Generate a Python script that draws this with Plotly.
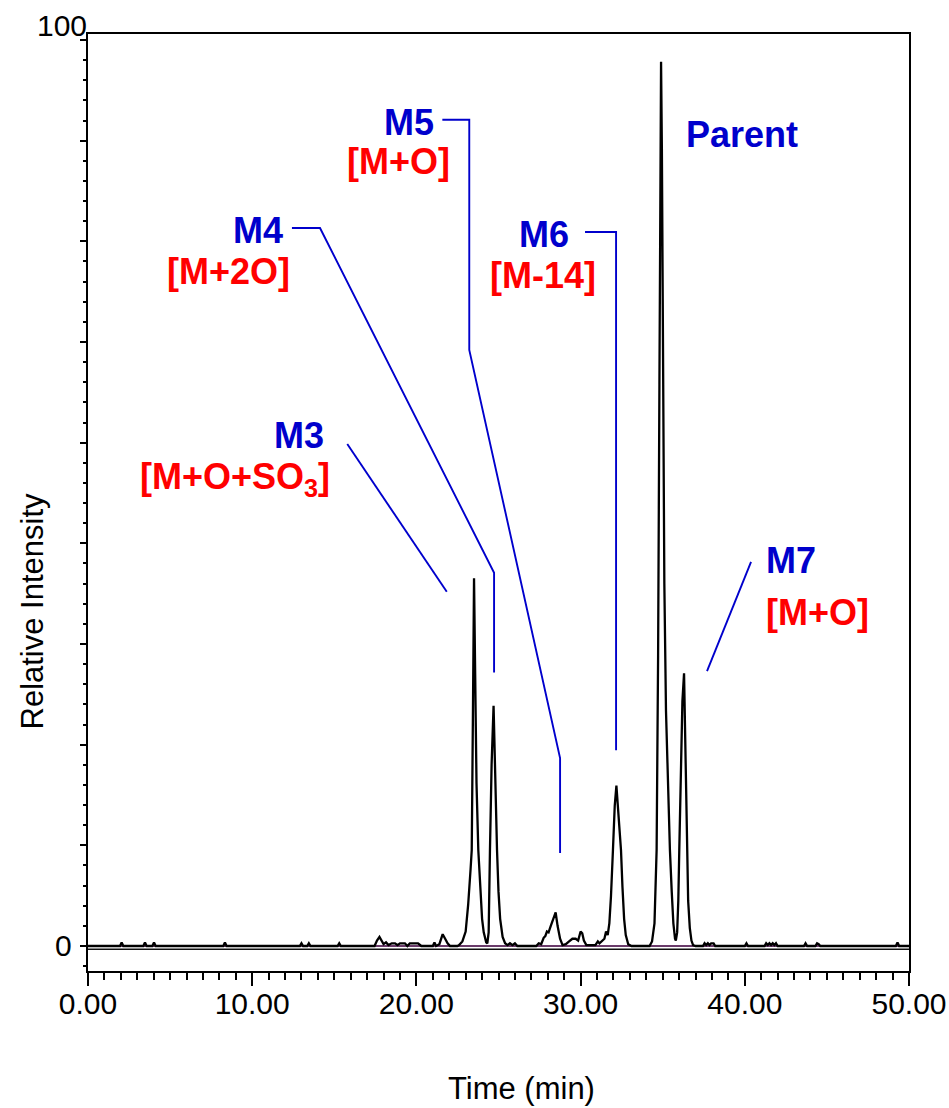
import plotly.graph_objects as go

# ---------------- data ----------------
TIME_MIN = [
    0.0, 1.95, 2.05, 2.15, 3.37, 3.47, 3.57, 3.92, 4.02, 4.12, 8.24, 8.34, 8.44,
    12.9, 13.0, 13.1, 13.35, 13.45, 13.55, 15.2, 15.3, 15.4,
    17.45, 17.6, 17.75, 17.9, 18.0, 18.15, 18.3, 18.5, 18.7, 18.85, 19.0, 19.3, 19.45,
    19.6, 20.1, 20.3, 21.0, 21.1, 21.2, 21.4, 21.6, 21.75, 21.9, 22.05, 22.5,
    22.6, 22.8, 23.0, 23.15, 23.3, 23.37, 23.44, 23.51, 23.58, 23.66, 23.77, 23.9,
    24.0, 24.1, 24.25, 24.32, 24.4, 24.48, 24.58, 24.7, 24.78, 24.91, 25.0, 25.1,
    25.25, 25.4, 25.55, 25.7, 25.85, 26.0, 26.15, 27.3, 27.45, 27.6, 27.75, 27.85,
    27.95, 28.05, 28.2, 28.35, 28.48, 28.6, 28.75, 28.9, 29.1, 29.3, 29.5, 29.7,
    29.85, 30.0, 30.1, 30.2, 30.35, 30.9, 31.05, 31.15, 31.3, 31.45, 31.55, 31.65,
    31.75, 31.85, 31.97, 32.08, 32.18, 32.28, 32.37, 32.46, 32.55, 32.65, 32.75,
    32.9, 33.1, 34.2, 34.35, 34.5, 34.63, 34.72, 34.8, 34.86, 34.9, 34.95, 35.02,
    35.1, 35.2, 35.32, 35.44, 35.55, 35.65, 35.75, 35.8, 35.88, 35.95, 36.01, 36.1,
    36.2, 36.3, 36.38, 36.46, 36.55, 36.65, 36.75, 36.85, 37.0,
    37.45, 37.55, 37.65, 37.75, 37.85, 37.95, 38.1, 38.2, 40.0, 40.1, 40.2,
    41.2, 41.3, 41.4, 41.5, 41.6, 41.7, 41.8, 41.9, 42.0, 43.6, 43.7, 43.8,
    44.3, 44.4, 44.5, 44.6, 49.2, 49.3, 49.4, 50.0,
]
INTENSITY = [
    0, 0, 0.4, 0, 0, 0.4, 0, 0, 0.4, 0, 0, 0.4, 0,
    0, 0.3, 0, 0, 0.3, 0, 0, 0.3, 0,
    0, 0.6, 1.0, 0.5, 0.2, 0.4, 0.1, 0.3, 0.3, 0.1, 0.3, 0.3, 0.0,
    0.3, 0.3, 0.0, 0, 0.4, 0, 0.2, 1.3, 0.8, 0.3, 0, 0,
    0.1, 0.5, 1.6, 4.5, 8.5, 10.6, 25, 40.6, 30, 18, 10.6, 5.5,
    3, 1.5, 0.4, 0.3, 1.5, 10.6, 20, 26.5, 20, 10.6, 6, 3,
    1.0, 0.3, 0.1, 0.3, 0.1, 0.3, 0, 0, 0.3, 0.2, 0.9, 1.1,
    1.6, 1.5, 2.3, 3.0, 3.7, 2.2, 0.8, 0.1, 0.2, 0.5, 0.8, 0.8,
    0.6, 1.6, 1.4, 0.6, 0.1, 0.1, 0.5, 0.3, 0.5, 0.8, 1.6, 1.2,
    2.5, 5.5, 10.6, 15.5, 17.7, 15, 12.5, 10.6, 6.5, 3, 1.2,
    0.2, 0, 0, 0.5, 2.5, 10.6, 32, 62, 88, 97.6, 88, 62,
    40, 26, 17, 10.6, 6, 2.5, 0.8, 0.6, 1.5, 5, 10.6, 19,
    27, 30.1, 22, 10.6, 5, 2, 0.6, 0.1, 0,
    0, 0.3, 0.1, 0.3, 0.1, 0.3, 0.3, 0, 0, 0.3, 0,
    0, 0.3, 0.1, 0.3, 0.1, 0.3, 0.1, 0.3, 0, 0, 0.3, 0,
    0, 0.3, 0.2, 0, 0, 0.4, 0, 0,
]

X_TICK_VALUES = [0, 10, 20, 30, 40, 50]
Y_TICK_LABELS = ["0", "100"]

# Peak labels: (text, colour-key, x [min], y [%])
PEAK_LABELS = [
    ("Parent", "blue", 39.83, 89.6),
    ("M5", "blue", 19.55, 90.9),
    ("[M+O]", "red", 18.94, 86.6),
    ("M4", "blue", 10.35, 79.0),
    ("[M+2O]", "red", 8.53, 74.4),
    ("M6", "blue", 27.77, 78.5),
    ("[M-14]", "red", 27.74, 74.0),
    ("M3", "blue", 12.82, 56.3),
    ("[M+O+SO<sub>3</sub>]", "red", 8.95, 51.5),
    ("M7", "blue", 42.84, 42.5),
    ("[M+O]", "red", 44.40, 36.8),
]

# Leader lines (annotation pointers), in data coordinates
LEADERS = [
    [(15.79, 55.4), (21.85, 39.1)],                                   # M3
    [(12.42, 79.25), (14.13, 79.25), (24.73, 41.2), (24.73, 30.2)],    # M4
    [(21.58, 91.2), (23.22, 91.2), (23.22, 65.8), (28.75, 20.75), (28.75, 10.26)],  # M5
    [(30.27, 78.8), (32.16, 78.8), (32.16, 21.6)],                    # M6
    [(40.38, 42.4), (37.70, 30.35)],                                  # M7
]

COLORS = {"blue": "#0000CC", "red": "#FF0000"}
FONT = "Liberation Sans, Arial, sans-serif"

fig = go.Figure()

# zero reference lines
fig.add_trace(go.Scatter(x=[0, 50], y=[0, 0], mode="lines",
                         line=dict(color="#6A3A6A", width=1.8), hoverinfo="skip"))
fig.add_trace(go.Scatter(x=[0, 50], y=[-0.35, -0.35], mode="lines",
                         line=dict(color="#111111", width=1.5), hoverinfo="skip"))

# chromatogram
fig.add_trace(go.Scatter(x=TIME_MIN, y=INTENSITY, mode="lines",
                         line=dict(color="black", width=2.3), hoverinfo="skip"))

# leader lines
for pts in LEADERS:
    fig.add_trace(go.Scatter(x=[p[0] for p in pts], y=[p[1] for p in pts], mode="lines",
                             line=dict(color=COLORS["blue"], width=1.9), hoverinfo="skip"))

annotations = []
for text, ck, x, y in PEAK_LABELS:
    annotations.append(dict(x=x, y=y, xref="x", yref="y", text="<b>" + text + "</b>",
                            showarrow=False, xanchor="center", yanchor="middle",
                            font=dict(family=FONT, size=36, color=COLORS[ck])))

# y tick labels (0 at baseline, 100 at the top corner)
annotations.append(dict(x=0, y=0, xref="x", yref="y", text=Y_TICK_LABELS[0], showarrow=False,
                        xanchor="right", yanchor="middle", xshift=-14,
                        font=dict(family=FONT, size=30, color="black")))
annotations.append(dict(x=0, y=1.0, xref="paper", yref="paper", text=Y_TICK_LABELS[1],
                        showarrow=False, xanchor="right", yanchor="middle", yshift=9, xshift=1,
                        font=dict(family=FONT, size=30, color="black")))

# axis titles
annotations.append(dict(x=0.5, y=0, xref="paper", yref="paper", text="Time (min)", showarrow=False,
                        xanchor="center", yanchor="middle", yshift=-117, xshift=23,
                        font=dict(family=FONT, size=31, color="black")))
annotations.append(dict(x=0, y=0.5, xref="paper", yref="paper", text="Relative Intensity",
                        showarrow=False, textangle=-90, xanchor="center", yanchor="middle",
                        xshift=-56, yshift=-109,
                        font=dict(family=FONT, size=31, color="black")))

fig.update_layout(
    template="none",
    width=949, height=1108,
    margin=dict(l=88, r=40, t=34, b=137, autoexpand=False),
    paper_bgcolor="white", plot_bgcolor="white",
    showlegend=False,
    annotations=annotations,
    font=dict(family=FONT, color="black"),
)

fig.update_xaxes(
    range=[0, 50], showgrid=False, zeroline=False, automargin=False,
    showline=True, linecolor="black", linewidth=2, mirror=True,
    tickmode="array", tickvals=X_TICK_VALUES, tickformat=".2f",
    ticks="outside", ticklen=13, tickwidth=2, tickcolor="black",
    ticklabelstandoff=-8, ticklabeloverflow="allow",
    minor=dict(dtick=1, ticks="outside", ticklen=7, tickwidth=2, tickcolor="black",
               showgrid=False),
    tickfont=dict(family=FONT, size=30, color="black"),
)
fig.update_yaxes(
    range=[-2.76, 100.66], showgrid=False, zeroline=False, automargin=False,
    showline=True, linecolor="black", linewidth=2, mirror=True,
    tick0=0, dtick=100 / 9, showticklabels=False,
    ticks="outside", ticklen=6, tickwidth=1.5, tickcolor="black",
    minor=dict(dtick=100 / 45, ticks="outside", ticklen=3, tickwidth=1.5, tickcolor="black",
               showgrid=False),
)

fig.write_html("out.html")
